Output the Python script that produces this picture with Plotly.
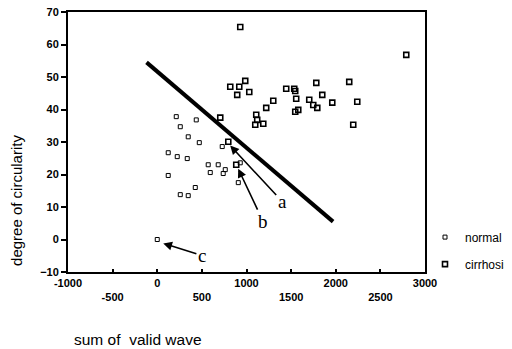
import plotly.graph_objects as go

# ---- data ----
normal_x = [213, 437, 258, 347, 471, 123, 224, 336, 728, 571, 683, 594, 762, 739,
            930, 908, 123, 426, 258, 347, 0]
normal_y = [37.8, 36.8, 34.7, 31.6, 29.8, 26.7, 25.5, 24.9, 28.6, 23.0, 23.0, 20.6,
            21.5, 20.3, 23.6, 17.5, 19.7, 16.0, 13.8, 13.5, 0.0]

cirrhosis_x = [930, 818, 919, 986, 1031, 896, 1109, 1120, 1098, 1188, 1221, 1300,
               1445, 1535, 1546, 1557, 1580, 1546, 1782, 1703, 1748, 1793, 1849,
               1961, 2151, 2241, 2196, 2790, 706, 796, 885]
cirrhosis_y = [65.4, 47.0, 47.0, 48.8, 45.4, 44.5, 38.4, 36.8, 35.3, 35.6, 40.5, 42.7,
               46.4, 46.4, 45.7, 43.3, 39.9, 39.3, 48.2, 43.0, 41.4, 40.5, 44.5,
               42.1, 48.5, 42.4, 35.3, 56.8, 37.5, 30.1, 23.0]

boundary_x = [-120, 1970]
boundary_y = [54.5, 5.5]

# arrows: label, tip (x, y), label position (x, y)
arrow_labels = ["a", "b", "c"]
arrow_tip_x = [817, 907, 67]
arrow_tip_y = [28.9, 21.8, -1.2]
arrow_lab_x = [1400, 1187, 500]
arrow_lab_y = [11.7, 5.5, -4.9]

x_major_vals = [-1000, 0, 1000, 2000, 3000]
x_major_text = ["-1000", "0", "1000", "2000", "3000"]
x_minor_vals = [-500, 500, 1500, 2500]
x_minor_text = ["-500", "500", "1500", "2500"]
y_tick_vals = [-10, 0, 10, 20, 30, 40, 50, 60, 70]

FONT = "Arial, Liberation Sans, sans-serif"
TICKFONT = dict(family=FONT, size=11, color="black", weight="bold")

fig = go.Figure()
fig.add_trace(go.Scatter(
    x=boundary_x, y=boundary_y, mode="lines",
    line=dict(color="black", width=4), showlegend=False, hoverinfo="skip"))
fig.add_trace(go.Scatter(
    x=normal_x, y=normal_y, mode="markers", name="normal", legendgroup="n",
    marker=dict(symbol="square-open", size=4, color="black", line=dict(width=1, color="black"))))
fig.add_trace(go.Scatter(
    x=cirrhosis_x, y=cirrhosis_y, mode="markers", name="cirrhosis", legendgroup="c",
    marker=dict(symbol="square-open", size=5, color="black", line=dict(width=1.6, color="black"))))
# invisible trace for the second tick row axis
fig.add_trace(go.Scatter(x=[-1000, 3000], y=[0, 0], xaxis="x2", mode="markers",
                         marker=dict(opacity=0), showlegend=False, hoverinfo="skip"))

for lab, tx, ty, lx, ly in zip(arrow_labels, arrow_tip_x, arrow_tip_y, arrow_lab_x, arrow_lab_y):
    fig.add_annotation(
        x=tx, y=ty, ax=lx, ay=ly, xref="x", yref="y", axref="x", ayref="y",
        text=lab, showarrow=True, arrowhead=2, arrowsize=1.1, arrowwidth=1.6,
        arrowcolor="black", standoff=0,
        font=dict(family="Liberation Serif, Times New Roman, serif", size=19, color="black"))

fig.add_annotation(
    text="degree of circularity", textangle=-90, xref="paper", yref="paper",
    x=-0.143, y=0.277, showarrow=False, xanchor="center", yanchor="middle",
    font=dict(family=FONT, size=15, color="black"))
fig.add_annotation(
    text="sum of  valid wave", xref="paper", yref="paper",
    x=0.196, y=-0.26, showarrow=False, xanchor="center", yanchor="middle",
    font=dict(family=FONT, size=15.5, color="black"))

# the page body adds an 8px offset, so the figure is drawn 8px smaller
fig.update_layout(
    width=504, height=341,
    margin=dict(l=60, r=87, t=4, b=77, autoexpand=False),
    paper_bgcolor="white", plot_bgcolor="white",
    font=dict(family=FONT, color="black"),
    xaxis=dict(range=[-1000, 3000], tickvals=x_major_vals, ticktext=x_major_text,
               ticks="inside", ticklen=3, tickwidth=1.5, tickcolor="black",
               showgrid=False, zeroline=False, showline=True, linewidth=2,
               linecolor="black", mirror=True, tickfont=TICKFONT,
               ticklabeloverflow="allow"),
    xaxis2=dict(range=[-1000, 3000], overlaying="x", side="bottom", anchor="y",
                matches="x", tickvals=x_minor_vals, ticktext=x_minor_text,
                ticks="inside", ticklen=3, tickwidth=1.5, tickcolor="black",
                ticklabelstandoff=17, ticklabeloverflow="allow",
                showgrid=False, zeroline=False, showline=False, tickfont=TICKFONT),
    yaxis=dict(range=[-10, 70], tickvals=y_tick_vals,
               ticks="outside", ticklen=5, tickwidth=1.5, tickcolor="black",
               showgrid=False, zeroline=False, showline=True, linewidth=2,
               linecolor="black", mirror=True, tickfont=TICKFONT,
               ticklabeloverflow="allow"),
    legend=dict(x=1.0, xanchor="left", y=0.19, yanchor="top",
                traceorder="grouped", tracegroupgap=8,
                font=dict(family=FONT, size=12, color="black"),
                bgcolor="rgba(0,0,0,0)"),
)

fig.write_html("out.html")
